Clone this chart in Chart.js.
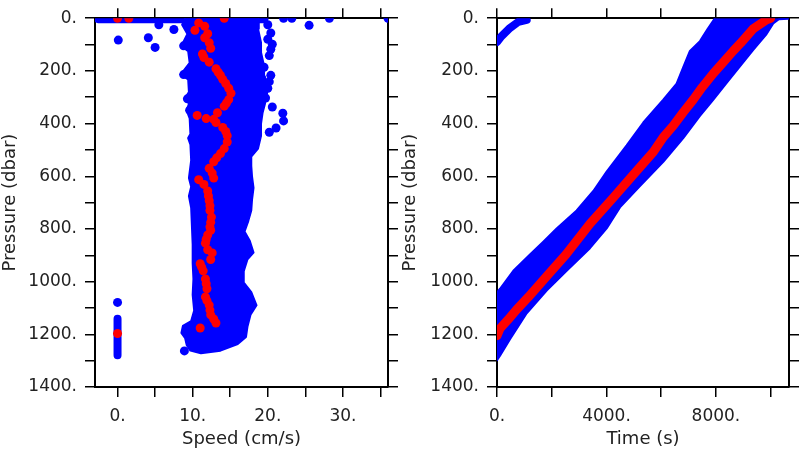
<!DOCTYPE html>
<html>
<head>
<meta charset="utf-8">
<script src="https://cdn.jsdelivr.net/npm/chart.js@4.4.0/dist/chart.umd.min.js"></script>
<style>
  html, body { margin: 0; padding: 0; background: #fff; }
  .panel { position: absolute; top: 0; width: 400px; height: 450px; }
</style>
</head>
<body>
<div class="panel" style="left:0"><canvas id="speedChart" width="400" height="450"></canvas></div>
<div class="panel" style="left:400px"><canvas id="timeChart" width="400" height="450"></canvas></div>
<script>
// tick positions (labels only on every other one)
const pressureTicks = [0, 100, 200, 300, 400, 500, 600, 700, 800, 900, 1000, 1100, 1200, 1300, 1400];
const pressureLabels = [0, 200, 400, 600, 800, 1000, 1200, 1400];
const speedTicks = [0, 5, 10, 15, 20, 25, 30, 35];
const speedLabels = [0, 10, 20, 30];
const timeTicks = [0, 2000, 4000, 6000, 8000, 10000];
const timeLabels = [0, 4000, 8000];

// ---- left panel: speed (cm/s) vs pressure (dbar) ----
// outline of the dense blue cloud: left edge going down, right edge coming back up
const speedCloud = [
  [9.0, 0], [8.6, 25], [9.3, 60], [8.5, 105], [9.4, 125], [9.6, 170], [8.4, 214], [9.4, 232],
  [9.5, 280], [9.0, 303], [9.5, 325], [9.2, 350], [9.6, 380], [9.7, 440], [9.4, 455], [9.7, 480],
  [9.8, 540], [9.5, 607], [9.8, 640], [9.5, 675], [9.8, 720], [9.9, 790], [10.0, 860], [10.0, 930],
  [10.1, 990], [10.0, 1050], [10.2, 1110], [9.8, 1150], [8.7, 1168], [8.5, 1195], [9.0, 1215],
  [9.2, 1240], [9.7, 1262], [11.1, 1272], [13.7, 1262], [16.0, 1237], [17.1, 1210], [17.3, 1170],
  [17.7, 1126], [18.5, 1090], [17.8, 1040], [16.7, 1000], [16.8, 960], [17.3, 915], [18.1, 890],
  [17.6, 845], [16.9, 810], [17.4, 770], [17.8, 730], [17.9, 690], [18.1, 644], [17.9, 600],
  [17.8, 560], [17.8, 525], [18.7, 495], [19.1, 446], [19.1, 400], [19.3, 360], [19.6, 328],
  [20.0, 270], [19.6, 220], [19.5, 180], [19.1, 130], [19.1, 93], [18.7, 40], [18.8, 0]
];
const speedSurface = [[-2.6, 2], [19.5, 2]];
const speedZeroColumn = [[0, 1141], [0, 1279]];
const speedOutliers = [
  [0.1, 83], [4.1, 74], [5.0, 111], [5.5, 25], [7.5, 43], [8.8, 105], [8.8, 214], [9.3, 306],
  [9.6, 349], [25.5, 27], [28.2, 0], [36, 0], [22.1, 0], [23.2, 0], [20.0, 25], [20.4, 56],
  [20.0, 80], [20.6, 99], [20.4, 118], [20.2, 142], [19.5, 186], [20.4, 217], [20.2, 241],
  [20.0, 266], [19.7, 303], [20.6, 337], [22.0, 361], [22.1, 390], [21.1, 417], [20.2, 433],
  [8.9, 1263], [0, 1079]
];
const speedMean = [
  [0, 0], [1.5, 0], [14.2, 0], [10.8, 18], [11.6, 31], [10.3, 46], [12.0, 59], [11.6, 74],
  [12.2, 93], [12.4, 114], [11.3, 136], [11.5, 149], [12.2, 167], [13.1, 192], [13.4, 205],
  [13.7, 217], [14.0, 232], [14.4, 248], [14.8, 266], [15.1, 285], [14.8, 309], [14.5, 322],
  [14.2, 334], [13.3, 359], [12.8, 384], [10.6, 369], [11.8, 381], [13.1, 396], [14.0, 415],
  [14.4, 430], [14.6, 446], [14.6, 470], [14.2, 495], [13.7, 514], [13.2, 530], [12.8, 545],
  [12.2, 570], [12.6, 588], [12.8, 607], [10.8, 613], [11.5, 631], [12.0, 656], [12.1, 675],
  [12.2, 693], [12.3, 712], [12.3, 730], [12.5, 755], [12.4, 775], [12.3, 792], [12.4, 805],
  [12.0, 823], [11.8, 840], [11.7, 854], [12.0, 879], [12.6, 891], [12.4, 916], [11.0, 932],
  [11.2, 945], [11.4, 959], [11.7, 990], [11.8, 1008], [11.9, 1027], [11.7, 1058], [11.9, 1072],
  [12.2, 1089], [12.3, 1108], [12.4, 1126], [12.8, 1142], [13.1, 1157], [11.0, 1176], [0, 1197]
];

// ---- right panel: time (s) vs pressure (dbar) ----
const timeBand = [
  [7963, 0], [7700, 40], [7416, 87], [7050, 124], [6806, 186], [6563, 248], [6076, 309],
  [5346, 396], [4737, 483], [4007, 582], [3520, 656], [2911, 730], [2180, 798], [1692, 848],
  [1205, 897], [596, 959], [110, 1027], [0, 1040], [0, 1298], [110, 1281], [475, 1219],
  [1085, 1120], [1815, 1034], [2546, 959], [3397, 873], [4007, 798], [4493, 718], [5224, 637],
  [6076, 545], [6806, 455], [7416, 371], [7900, 310], [8400, 245], [8900, 180], [9364, 120],
  [9851, 60], [10094, 20], [10300, 4], [10650, 2], [10650, 0]
];
const timeEarly = [[0, 90], [170, 68], [475, 37], [779, 14], [1085, 6]];
const timeMean = [
  [10000, 0], [9850, 6], [9364, 40], [8900, 95], [8634, 124], [8268, 167], [7903, 210],
  [7500, 262], [7172, 309], [6800, 358], [6442, 408], [6076, 452], [5711, 508], [4980, 594],
  [4250, 681], [3397, 780], [2520, 897], [1880, 972], [1150, 1058], [700, 1108], [400, 1145],
  [110, 1178], [0, 1205]
];

const BLUE = '#0000ff';
const RED = '#ff0000';
const FONT = 'DejaVu Sans';

const toXY = (pts) => pts.map(([x, y]) => ({ x, y }));

function outline(pts) {
  return {
    data: toXY(pts), showLine: true, fill: 'shape', tension: 0,
    backgroundColor: BLUE, borderColor: BLUE, borderWidth: 2, borderJoinStyle: 'round',
    pointRadius: 0, order: 3
  };
}

function trail(pts, color, width, order) {
  return {
    data: toXY(pts), showLine: true, fill: false, tension: 0,
    borderColor: color, borderWidth: width, borderCapStyle: 'round', borderJoinStyle: 'round',
    pointRadius: 0, order
  };
}

function dots(pts, color, order) {
  return {
    data: toXY(pts), showLine: false, pointRadius: 4.5, pointBorderWidth: 0,
    pointBackgroundColor: color, order
  };
}

function axes(cfg) {
  const grid = { drawOnChartArea: false, drawTicks: true, tickLength: 10, color: '#000', lineWidth: 1.5 };
  const border = { color: '#000', width: 2 };
  const tickFont = { family: FONT, size: 17 };
  const titleFont = { family: FONT, size: 18 };
  const fixTicks = (values) => (scale) => { scale.ticks = values.map((value) => ({ value })); };
  const label = (shown) => (v) => (shown.includes(v) ? `${v}.` : '');
  const xBase = { type: 'linear', min: cfg.xMin, max: cfg.xMax, grid, border, afterBuildTicks: fixTicks(cfg.xTicks) };
  const yBase = { type: 'linear', reverse: true, min: 0, max: 1400, grid, border, afterBuildTicks: fixTicks(pressureTicks) };
  return {
    x: {
      ...xBase, position: 'bottom',
      ticks: { font: tickFont, color: '#222', padding: 9, maxRotation: 0, autoSkip: false, callback: label(cfg.xLabels) },
      title: { display: true, text: cfg.xTitle, font: titleFont, color: '#222', padding: 0 },
      afterFit: (s) => { s.height = 63; }
    },
    x2: {
      ...xBase, position: 'top',
      ticks: { display: false },
      afterFit: (s) => { s.height = 10; }
    },
    y: {
      ...yBase, position: 'left',
      ticks: { font: tickFont, color: '#222', padding: 8, autoSkip: false, callback: label(pressureLabels) },
      title: { display: true, text: 'Pressure (dbar)', font: titleFont, color: '#222', padding: 0 },
      afterFit: (s) => { s.width = cfg.left; }
    },
    y2: {
      ...yBase, position: 'right',
      ticks: { display: false },
      afterFit: (s) => { s.width = 400 - cfg.right; }
    }
  };
}

function makeChart(id, datasets, cfg) {
  return new Chart(document.getElementById(id), {
    type: 'scatter',
    data: { datasets },
    options: {
      responsive: false,
      animation: false,
      layout: { padding: 0 },
      plugins: { legend: { display: false }, tooltip: { enabled: false } },
      scales: axes(cfg)
    }
  });
}

makeChart('speedChart', [
  dots(speedMean, RED, 0),
  dots(speedOutliers, BLUE, 1),
  trail(speedSurface, BLUE, 9, 2),
  trail(speedZeroColumn, BLUE, 8, 2),
  outline(speedCloud)
], { xMin: -3, xMax: 36, xTicks: speedTicks, xLabels: speedLabels, xTitle: 'Speed (cm/s)', left: 95, right: 388 });

makeChart('timeChart', [
  trail(timeMean, RED, 9, 0),
  trail(timeEarly, BLUE, 8, 2),
  outline(timeBand)
], { xMin: 0, xMax: 10670, xTicks: timeTicks, xLabels: timeLabels, xTitle: 'Time (s)', left: 97, right: 389 });
</script>
</body>
</html>
